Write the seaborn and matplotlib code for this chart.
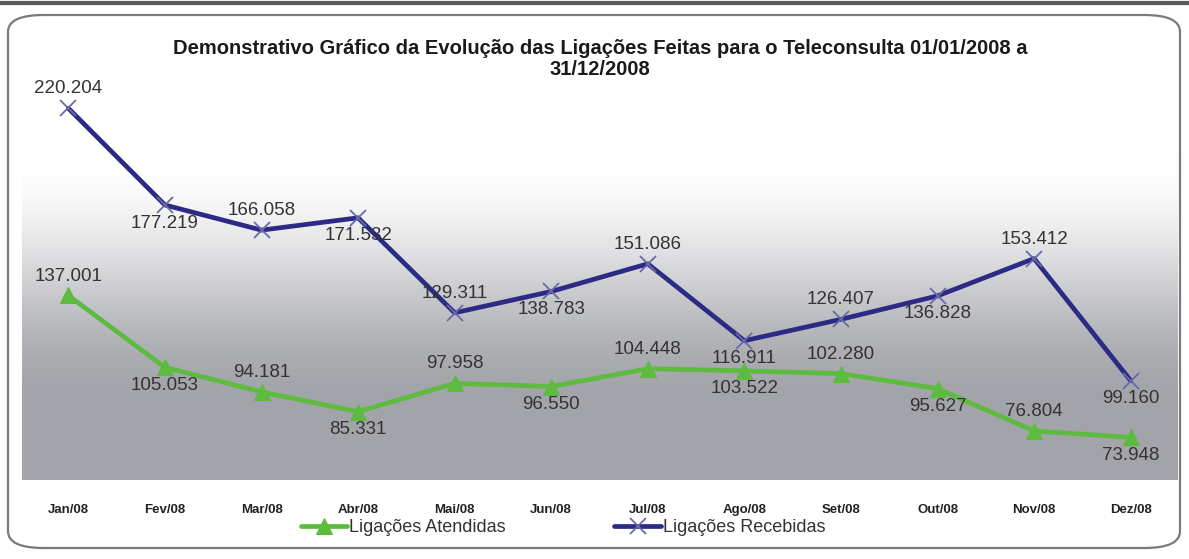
import numpy as np
import pandas as pd
import matplotlib
matplotlib.use("Agg")
import matplotlib.pyplot as plt
from matplotlib.patches import FancyBboxPatch
from matplotlib.lines import Line2D
import seaborn as sns

months = ["Jan/08", "Fev/08", "Mar/08", "Abr/08", "Mai/08", "Jun/08",
          "Jul/08", "Ago/08", "Set/08", "Out/08", "Nov/08", "Dez/08"]
recebidas = [220204, 177219, 166058, 171532, 129311, 138783,
             151086, 116911, 126407, 136828, 153412, 99160]
atendidas = [137001, 105053, 94181, 85331, 97958, 96550,
             104448, 103522, 102280, 95627, 76804, 73948]
title = ("Demonstrativo Gráfico da Evolução das Ligações Feitas para o Teleconsulta 01/01/2008 a\n"
         "31/12/2008")
series_names = ["Ligações Atendidas", "Ligações Recebidas"]

sns.set_theme(style="white")
plt.rcParams["font.family"] = ["Liberation Sans", "DejaVu Sans"]

W, H = 1189, 559
fig = plt.figure(figsize=(W / 100, H / 100), dpi=100)
fig.patch.set_facecolor("white")

# outer rounded frame and dark top rule
frame = FancyBboxPatch((8 / W, 1 - 548 / H), (1180 - 8) / W, (548 - 15) / H,
                       boxstyle="round,pad=0,rounding_size=0.03",
                       transform=fig.transFigure, facecolor="none",
                       edgecolor="#7a7a7a", lw=1.6, zorder=0)
fig.patches.append(frame)
fig.add_artist(Line2D([0, 1], [1 - 3 / H, 1 - 3 / H], transform=fig.transFigure,
                      color="#5a5a5a", lw=3))

ax = fig.add_axes([22 / W, 1 - 480 / H, (1178 - 22) / W, (480 - 30) / H])

# gradient background (white top -> gray bottom)
n = 256
frac = np.linspace(1, 0, n)  # top to bottom in axes fraction
t = np.clip((0.72 - frac) / 0.55, 0, 1)
t = t * t * (3 - 2 * t)
top = np.array([1.0, 1.0, 1.0])
bot = np.array([0.64, 0.645, 0.665])
grad = top[None, :] * (1 - t[:, None]) + bot[None, :] * t[:, None]
ax.imshow(grad[:, None, :], aspect="auto", extent=[0, 1, 0, 1],
          transform=ax.transAxes, zorder=0, interpolation="bilinear")

df = pd.DataFrame({
    "pos": list(range(len(months))) * 2,
    "valor": atendidas + recebidas,
    "serie": [series_names[0]] * len(months) + [series_names[1]] * len(months),
})

green = "#5dbb3f"
navy = "#2b2b86"
sns.lineplot(data=df[df.serie == series_names[0]], x="pos", y="valor", ax=ax,
             color=green, lw=3.4, marker="^", markersize=11,
             markeredgecolor=green, markerfacecolor=green, zorder=3,
             label=series_names[0])
sns.lineplot(data=df[df.serie == series_names[1]], x="pos", y="valor", ax=ax,
             color=navy, lw=3.4, marker="x", markersize=12, markeredgewidth=1.3,
             markeredgecolor="#6a6aa8", zorder=3, label=series_names[1])

def fmt(v):
    return f"{v:,}".replace(",", ".")

for vals in (recebidas, atendidas):
    for i, v in enumerate(vals):
        dy = 14 if i % 2 == 0 else -13
        ax.annotate(fmt(v), (i, v), xytext=(0, dy), textcoords="offset points",
                    ha="center", va="center", fontsize=13.5, color="#333333",
                    zorder=5)

ax.set_xlim(-0.48, 11.49)
ax.set_ylim(55000, 255000)
ax.set_xticks(range(len(months)))
ax.set_xticklabels(months, fontsize=9.5, fontweight="bold", color="#222222")
ax.tick_params(axis="x", length=0, pad=17)
ax.set_yticks([])
ax.set_xlabel("")
ax.set_ylabel("")
for s in ax.spines.values():
    s.set_visible(False)

ax.text(0.5, 1 - 29 / 450, title, transform=ax.transAxes, ha="center", va="center",
        fontsize=14.5, fontweight="bold", color="#1a1a1a", linespacing=1.1)

leg = ax.legend(loc="center", bbox_to_anchor=((563 - 22) / 1156, (480 - 528) / 450),
                ncol=2, frameon=False, fontsize=13, handlelength=2.6,
                handletextpad=0.1, columnspacing=6.0, borderaxespad=0)
for txt in leg.get_texts():
    txt.set_color("#333333")

fig.savefig("out.png", dpi=100, facecolor="white")
